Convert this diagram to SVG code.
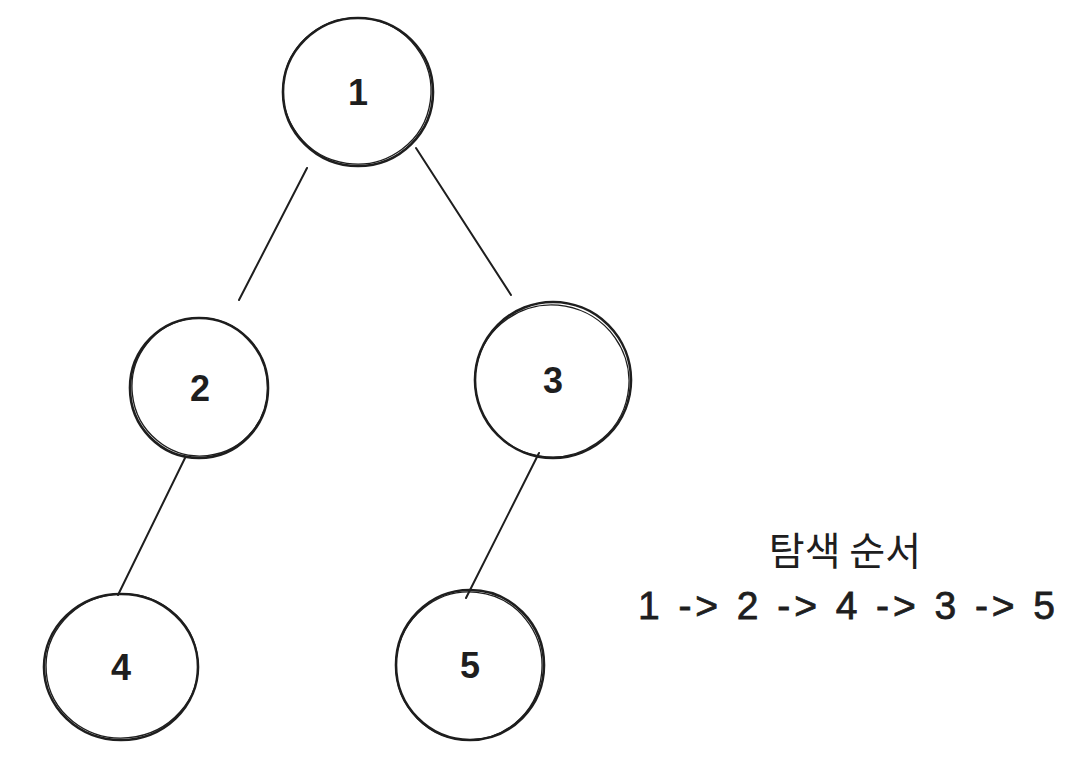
<svg xmlns="http://www.w3.org/2000/svg" width="1084" height="772" viewBox="0 0 1084 772">
<style>
.n{fill:none;stroke:#1e1e1e;stroke-width:2.6;stroke-linecap:round}
.n2{fill:none;stroke:#1e1e1e;stroke-width:1.3}
.e{stroke:#1e1e1e;stroke-width:2;stroke-linecap:round;fill:none}
.t{font-family:"Liberation Sans","Noto Sans",sans-serif;font-size:36px;font-weight:bold;fill:#1e1e1e;text-anchor:middle;dominant-baseline:central}
.k{font-family:"Noto Sans CJK KR","Noto Sans",sans-serif;font-size:39px;fill:#1e1e1e;text-anchor:middle}
.s{font-family:"Liberation Sans","Noto Sans",sans-serif;font-size:39px;fill:#1e1e1e;stroke:#1e1e1e;stroke-width:0.8}
</style>
<rect width="1084" height="772" fill="#ffffff"/>
<g id="edges">
<line class="e" x1="307" y1="168" x2="239" y2="300"/>
<line class="e" x1="416" y1="148" x2="511" y2="295"/>
<line class="e" x1="185" y1="458" x2="118" y2="595"/>
<line class="e" x1="539" y1="453" x2="466" y2="598"/>
</g>
<g id="node1">
<ellipse class="n" cx="358" cy="92" rx="75" ry="74"/>
<ellipse class="n2" cx="357" cy="91" rx="74" ry="73" transform="rotate(8 357 91)"/>
<text class="t" x="358" y="92">1</text>
</g>
<g id="node2">
<ellipse class="n" cx="199" cy="388" rx="69" ry="70"/>
<ellipse class="n2" cx="200" cy="387" rx="68" ry="69" transform="rotate(-6 200 387)"/>
<text class="t" x="200" y="388">2</text>
</g>
<g id="node3">
<ellipse class="n" cx="553" cy="380" rx="78" ry="78"/>
<ellipse class="n2" cx="552" cy="381" rx="77" ry="76" transform="rotate(10 552 381)"/>
<text class="t" x="553" y="380">3</text>
</g>
<g id="node4">
<ellipse class="n" cx="121" cy="667" rx="77" ry="73"/>
<ellipse class="n2" cx="122" cy="666" rx="76" ry="72" transform="rotate(-5 122 666)"/>
<text class="t" x="121" y="667">4</text>
</g>
<g id="node5">
<ellipse class="n" cx="470" cy="665" rx="74" ry="75"/>
<ellipse class="n2" cx="469" cy="666" rx="73" ry="74" transform="rotate(6 469 666)"/>
<text class="t" x="470" y="665">5</text>
</g>
<g id="order">
<text class="k" x="845" y="565">탐색 순서</text>
<text class="s" x="638" y="619" textLength="417" lengthAdjust="spacing">1 -&gt; 2 -&gt; 4 -&gt; 3 -&gt; 5</text>
</g>
</svg>
